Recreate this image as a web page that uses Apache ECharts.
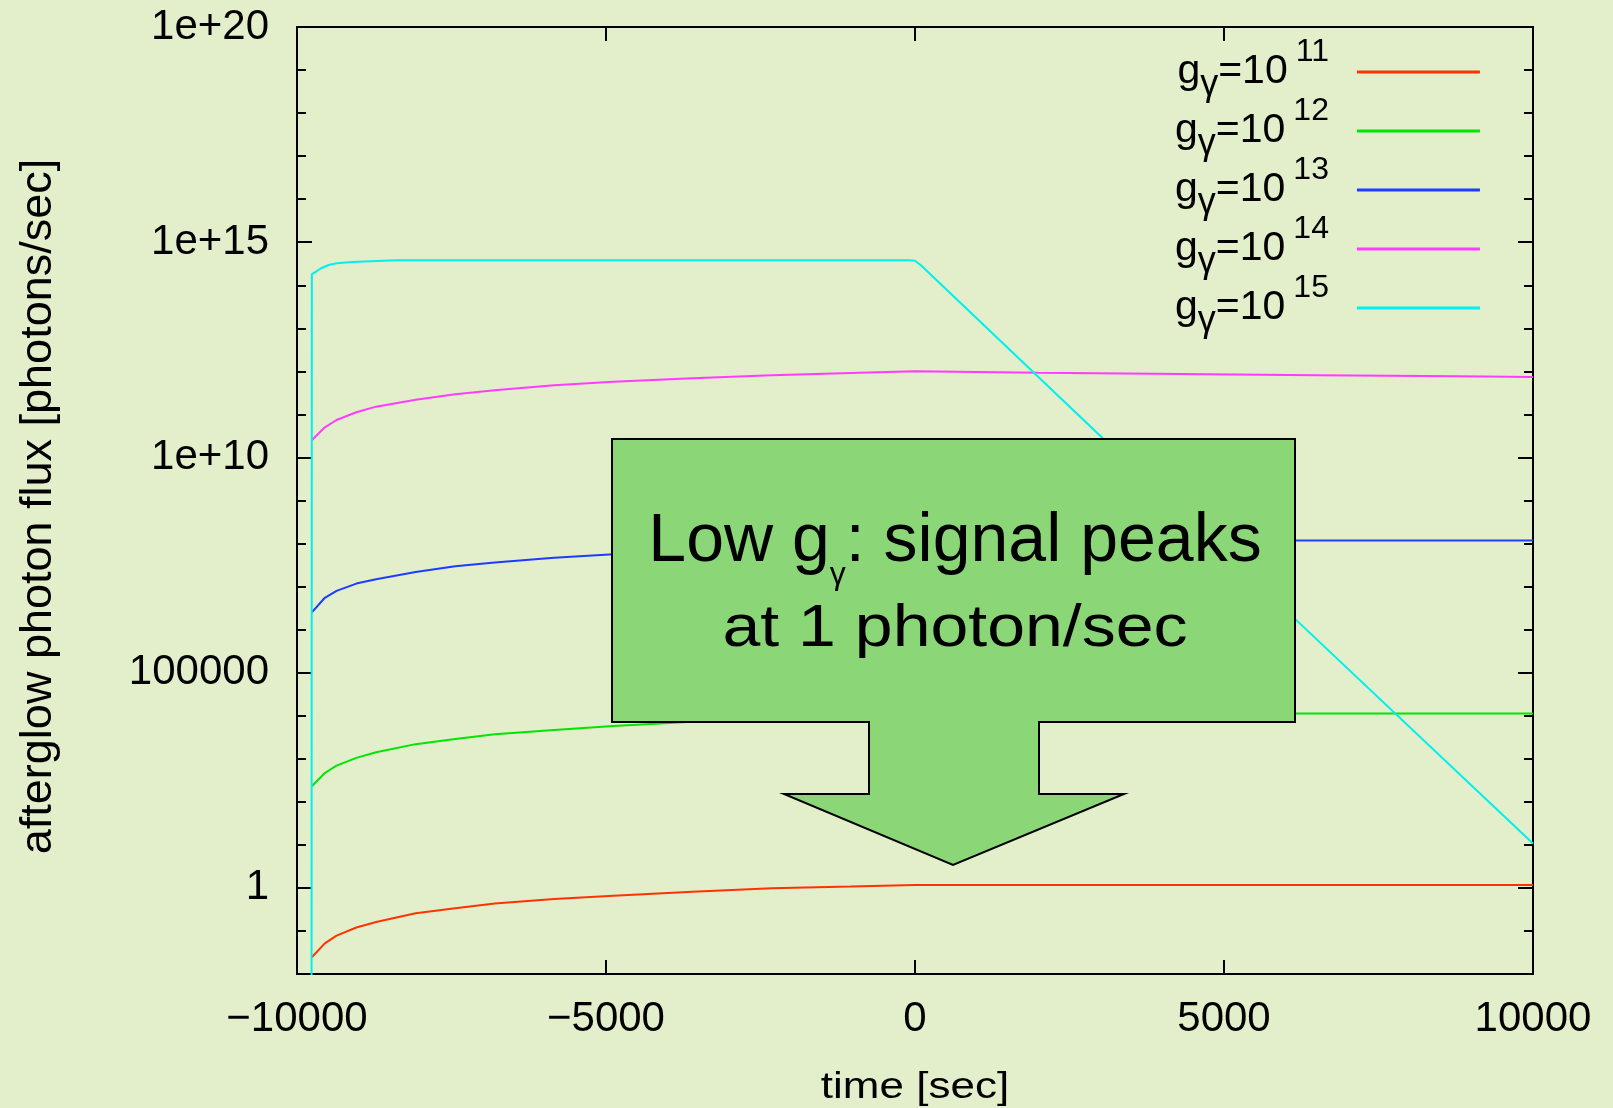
<!DOCTYPE html>
<html>
<head>
<meta charset="utf-8">
<script src="https://cdn.jsdelivr.net/npm/echarts@6/dist/echarts.min.js"></script>
<style>
  html, body { margin: 0; padding: 0; background: #e3eecb; }
  #chart { width: 1613px; height: 1108px; }
</style>
</head>
<body>
<div id="chart"></div>
<script>
const FONT = '"Liberation Sans", Arial, Helvetica, sans-serif';

// Sample times [s] for the four slowly rising curves
const timeRise = [-9760, -9550, -9360, -9040, -8720, -8080, -7440, -6800, -5840, -4880, -3600, -2320, -1040, 0, 2000, 4300, 6500, 8800, 10000];
// log10 of the afterglow flux [photons/sec], one list per coupling
const log10Flux11 = [-1.61, -1.29, -1.11, -0.92, -0.79, -0.59, -0.47, -0.36, -0.26, -0.18, -0.09, -0.01, 0.03, 0.07, 0.07, 0.07, 0.07, 0.07, 0.07];
const log10Flux12 = [2.36, 2.67, 2.84, 3.02, 3.15, 3.34, 3.46, 3.57, 3.67, 3.76, 3.86, 3.93, 3.99, 4.04, 4.05, 4.05, 4.05, 4.05, 4.05];
const log10Flux13 = [6.40, 6.74, 6.90, 7.07, 7.17, 7.34, 7.47, 7.56, 7.67, 7.75, 7.84, 7.92, 7.99, 8.05, 8.07, 8.07, 8.07, 8.07, 8.07];
const log10Flux14 = [10.40, 10.70, 10.87, 11.05, 11.18, 11.34, 11.47, 11.56, 11.68, 11.76, 11.84, 11.91, 11.96, 12.00, 11.97, 11.94, 11.91, 11.885, 11.87];
// The strongest coupling saturates, then decays exponentially after t = 0
const time15 = [-9765, -9760, -9712, -9616, -9488, -9360, -9104, -8400, -100, 0, 100, 3000, 6200, 10000];
const log10Flux15 = [-4, 14.26, 14.30, 14.39, 14.47, 14.51, 14.54, 14.58, 14.58, 14.57, 14.46, 10.50, 6.18, 1.03];

// Coupling exponents (g_gamma = 10^n) and line colours
const couplingExp = [11, 12, 13, 14, 15];
const lineColors = ['#ff3300', '#00e600', '#1e3cff', '#ff3cff', '#00f0f0'];

// Axis ticks and labels
const xTickValues = [-10000, -5000, 0, 5000, 10000];
const xTickLabels = ['\u221210000', '\u22125000', '0', '5000', '10000'];
const yTickValues = [1, 1e5, 1e10, 1e15, 1e20];
const yTickLabels = ['1', '100000', '1e+10', '1e+15', '1e+20'];
const yDecadeTicks = [];
for (let e = -2; e <= 20; e++) yDecadeTicks.push(Math.pow(10, e));

const curveTimes = [timeRise, timeRise, timeRise, timeRise, time15];
const curveLogs = [log10Flux11, log10Flux12, log10Flux13, log10Flux14, log10Flux15];

const seriesNames = couplingExp.map(n => 'g\u03b3=10^' + n);

const chart = echarts.init(document.getElementById('chart'), null, { renderer: 'canvas' });

function yAxisCfg(position, ticks, len, withLabels) {
  const cfg = {
    type: 'log',
    logBase: 10,
    min: 0.01,
    max: 1e20,
    position: position,
    offset: 0,
    axisLine: { show: false, onZero: false },
    splitLine: { show: false },
    minorTick: { show: false },
    axisTick: {
      show: true,
      inside: true,
      length: len,
      customValues: ticks,
      lineStyle: { color: '#000', width: 2 }
    },
    axisLabel: { show: false }
  };
  if (withLabels) {
    cfg.axisLabel = {
      show: true,
      customValues: yTickValues,
      margin: 28,
      fontSize: 42,
      fontFamily: FONT,
      color: '#000',
      formatter: function (v) {
        const i = yTickValues.findIndex(x => Math.abs(Math.log10(x) - Math.log10(v)) < 1e-6);
        return i >= 0 ? yTickLabels[i] : '';
      }
    };
    cfg.name = 'afterglow photon flux [photons/sec]';
    cfg.nameLocation = 'middle';
    cfg.nameGap = 236;
    cfg.nameTextStyle = { fontSize: 45, fontFamily: FONT, color: '#000', padding: [0, 12, 0, 0] };
  }
  return cfg;
}

function xAxisCfg(position, withLabels) {
  return {
    type: 'value',
    min: -10000,
    max: 10000,
    interval: 5000,
    position: position,
    axisLine: { show: false, onZero: false },
    splitLine: { show: false },
    axisTick: { show: true, inside: true, length: 14, lineStyle: { color: '#000', width: 2 } },
    axisLabel: withLabels ? {
      show: true,
      margin: 24,
      fontSize: 42,
      fontFamily: FONT,
      color: '#000',
      formatter: function (v) {
        const i = xTickValues.indexOf(v);
        return i >= 0 ? xTickLabels[i] : String(v);
      }
    } : { show: false }
  };
}

// Call-out arrow drawn over the plot
const calloutPoints = [
  [612, 439], [1295, 439], [1295, 722], [1039, 722], [1039, 794], [1124, 794],
  [953, 865], [784, 794], [869, 794], [869, 722], [612, 722]
];

const option = {
  backgroundColor: '#e3eecb',
  animation: false,
  grid: {
    left: 297, right: 80, top: 27, bottom: 134,
    containLabel: false,
    show: true,
    borderColor: '#000',
    borderWidth: 2,
    backgroundColor: 'transparent'
  },
  xAxis: [xAxisCfg('bottom', true), xAxisCfg('top', false)],
  yAxis: [
    yAxisCfg('left', yTickValues, 15, true),
    yAxisCfg('left', yDecadeTicks, 9, false),
    yAxisCfg('right', yTickValues, 15, false),
    yAxisCfg('right', yDecadeTicks, 9, false)
  ],
  legend: {
    data: seriesNames,
    orient: 'vertical',
    left: 1175,
    top: 36,
    padding: 0,
    itemGap: -13,
    align: 'right',
    icon: 'rect',
    itemWidth: 123,
    itemHeight: 3,
    selectedMode: false,
    formatter: function (name) {
      const exp = name.split('^')[1];
      return '{g|g}{s|\u03b3}{e|=10}{p|' + exp + '}';
    },
    textStyle: {
      color: '#000',
      fontFamily: FONT,
      rich: {
        g: { fontSize: 41, fontFamily: FONT, color: '#000', lineHeight: 46 },
        s: { fontSize: 36, fontFamily: FONT, color: '#000', lineHeight: 46, padding: [27, 0, 0, 0] },
        e: { fontSize: 41, fontFamily: FONT, color: '#000', lineHeight: 46 },
        p: { fontSize: 32, fontFamily: FONT, color: '#000', lineHeight: 46, padding: [0, 23, 40, 8] }
      }
    }
  },
  series: couplingExp.map((n, i) => ({
    name: seriesNames[i],
    type: 'line',
    xAxisIndex: 0,
    yAxisIndex: 0,
    showSymbol: false,
    symbol: 'none',
    silent: true,
    clip: true,
    smooth: false,
    z: 2 + i,
    lineStyle: { width: 2, color: lineColors[i] },
    itemStyle: { color: lineColors[i] },
    data: curveTimes[i].map((t, k) => [t, Math.pow(10, curveLogs[i][k])])
  })),
  graphic: [
    {
      type: 'polygon',
      z: 100,
      shape: { points: calloutPoints },
      style: { fill: '#8bd677', stroke: '#000', lineWidth: 2 }
    },
    {
      type: 'text',
      z: 101,
      x: 955,
      y: 542.5,
      style: {
        text: '{a|Low g}{s|\u03b3}{a|: signal peaks}',
        textAlign: 'center',
        textVerticalAlign: 'middle',
        rich: {
          a: { fontSize: 68, fontFamily: FONT, fill: '#000', lineHeight: 80 },
          s: { fontSize: 32, fontFamily: FONT, fill: '#000', lineHeight: 80, padding: [66, 0, 0, 0] }
        }
      }
    },
    {
      type: 'text',
      z: 101,
      x: 955,
      y: 630,
      scaleY: 0.86,
      style: {
        text: 'at 1 photon/sec',
        fontSize: 68,
        fontFamily: FONT,
        fill: '#000',
        textAlign: 'center',
        textVerticalAlign: 'middle'
      }
    },
    {
      type: 'text',
      z: 101,
      x: 915,
      y: 1088,
      scaleY: 0.86,
      style: {
        text: 'time [sec]',
        fontSize: 44,
        fontFamily: FONT,
        fill: '#000',
        textAlign: 'center',
        textVerticalAlign: 'middle'
      }
    }
  ]
};

chart.setOption(option);
</script>
</body>
</html>
